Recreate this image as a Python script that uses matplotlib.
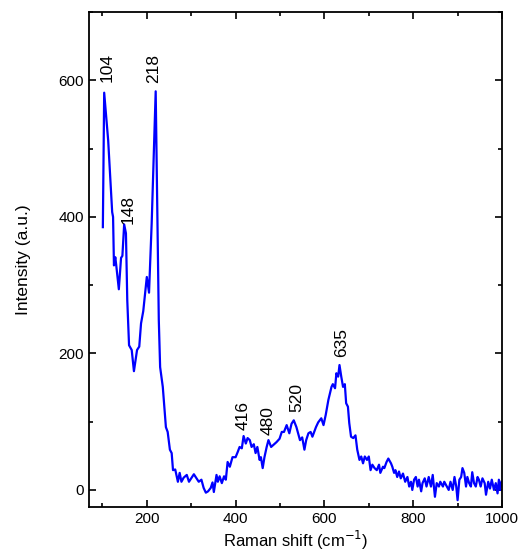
import matplotlib
matplotlib.use("Agg")
import matplotlib.pyplot as plt
from matplotlib.ticker import MultipleLocator

plt.rcParams['font.family'] = ['Liberation Sans', 'DejaVu Sans']

# Raman spectrum
shift = [101, 104, 113, 122, 124, 126, 129, 131, 137, 142, 145, 149, 153, 156, 160,
         166, 171, 178, 183, 187, 192, 200, 205, 211, 220, 227, 230, 236, 243, 247,
         252, 256, 259, 264, 270, 274, 278, 283, 290, 295, 301, 306, 312, 317, 323,
         328, 333, 338, 344, 348, 351, 357, 360, 364, 369, 374, 378, 382, 387, 393,
         400, 405, 409, 414, 418, 423, 427, 432, 436, 441, 445, 449, 454, 457, 461,
         465, 470, 474, 480, 487, 492, 499, 504, 509, 515, 521, 526, 531, 537, 542,
         545, 550, 555, 559, 564, 569, 573, 581, 586, 593, 598, 603, 609, 616, 619,
         624, 627, 631, 634, 638, 642, 646, 649, 653, 656, 660, 665, 670, 674, 679,
         683, 687, 691, 696, 700, 704, 708, 713, 718, 723, 726, 732, 735, 740, 744,
         750, 753, 757, 760, 764, 768, 772, 777, 782, 787, 791, 795, 798, 802, 806,
         810, 813, 818, 821, 826, 830, 835, 840, 844, 849, 853, 858, 861, 867, 870,
         876, 880, 884, 889, 893, 897, 900, 904, 908, 911, 915, 919, 922, 926, 930,
         933, 937, 941, 945, 948, 952, 956, 961, 964, 969, 973, 977, 982, 986, 990,
         993, 996, 999]
intensity = [385, 582, 512, 407, 400, 329, 341, 330, 294, 340, 343, 389, 376, 278, 212,
             205, 174, 205, 210, 244, 262, 312, 289, 391, 584, 249, 180, 151, 92, 85,
             59, 54, 29, 30, 12, 25, 12, 18, 22, 12, 18, 23, 17, 12, 15,
             3, -4, -2, 3, 11, -3, 22, 12, 20, 10, 20, 15, 41, 34, 48,
             48, 56, 63, 61, 79, 68, 76, 73, 63, 67, 54, 63, 44, 48, 32,
             48, 63, 73, 63, 67, 70, 75, 85, 85, 95, 83, 97, 102, 92, 80,
             73, 77, 59, 73, 83, 85, 78, 92, 99, 105, 95, 110, 132, 151, 155,
             149, 171, 166, 183, 166, 151, 155, 127, 122, 98, 78, 76, 80, 59, 44,
             49, 39, 49, 44, 49, 29, 37, 32, 29, 37, 25, 34, 32, 41, 46,
             39, 34, 25, 29, 19, 27, 17, 24, 12, 19, 5, 12, 0, 15, 19,
             5, 15, -2, 10, 17, 5, 19, 5, 22, -10, 10, 5, 12, 5, 12,
             5, 0, 12, 0, 19, 5, -15, 15, 19, 32, 25, 5, 19, 10, 5,
             26, 10, 5, 19, 15, 5, 17, 10, -7, 12, 2, 15, 0, 10, -5,
             15, 0, 12]

# peak labels: text, x, y (bottom of rotated text)
peak_text = ['104', '148', '218', '416', '480', '520', '635']
peak_x = [110, 158, 216, 418, 474, 537, 639]
peak_y = [597, 389, 596, 88, 80, 114, 195]

fig = plt.figure(figsize=(5.21, 5.52), dpi=100)
ax = fig.add_axes([0.171, 0.0815, 0.7925, 0.8965])

ax.plot(shift, intensity, color='#0000ff', lw=1.6)

for t, px, py in zip(peak_text, peak_x, peak_y):
    ax.text(px, py, t, rotation=90, ha='center', va='bottom', fontsize=12.5)

ax.set_xlim(70, 1000)
ax.set_ylim(-25, 700)
ax.xaxis.set_major_locator(MultipleLocator(200))
ax.xaxis.set_minor_locator(MultipleLocator(100))
ax.yaxis.set_major_locator(MultipleLocator(200))
ax.yaxis.set_minor_locator(MultipleLocator(100))
ax.tick_params(which='both', direction='in', top=True, right=True,
               labelsize=11, width=1.2)
ax.tick_params(which='major', length=5)
ax.tick_params(which='minor', length=3)
for s in ax.spines.values():
    s.set_linewidth(1.3)

ax.set_xlabel('Raman shift (cm$^{-1}$)', fontsize=12, labelpad=2)
ax.set_ylabel('Intensity (a.u.)', fontsize=12.5, labelpad=20)

fig.savefig('out.png', dpi=100)
